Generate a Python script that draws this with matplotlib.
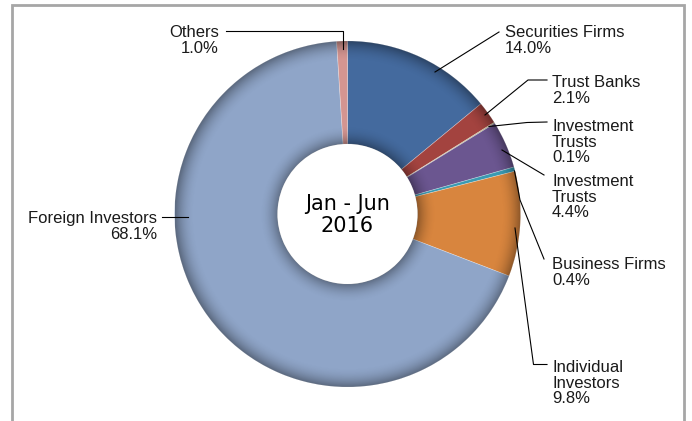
import matplotlib
matplotlib.use('Agg')
import matplotlib.pyplot as plt
import numpy as np
from matplotlib.patches import Wedge, Circle

W, H = 692, 421

# investor shares, clockwise from 12 o'clock
names = ['Securities Firms', 'Trust Banks', 'Investment\nTrusts', 'Investment\nTrusts',
         'Business Firms', 'Individual\nInvestors', 'Foreign Investors', 'Others']
shares = [14.0, 2.1, 0.1, 4.4, 0.4, 9.8, 68.1, 1.0]
colors = ['#446a9e', '#a3433f', '#b3ab72', '#6b5690', '#3a9ab2', '#d8853e', '#8fa5c8', '#d49591']
period = 'Jan - Jun\n2016'

# layout in pixel units (y measured from the top)
cx, cy = 347.5, 214
R, r_hole = 173, 70
label_pos = [(505, 37, 'left'), (552, 87, 'left'), (552, 131, 'left'), (552, 186, 'left'),
             (552, 269, 'left'), (552, 372, 'left'), (157, 223, 'right'), (219, 37, 'right')]
leaders = [
    [(499, 32), (435, 72)],
    [(547, 80), (528, 80), (485, 115)],
    [(547, 122), (527, 122.5), (489, 126.5)],
    [(544, 175), (502, 150)],
    [(544, 259), (520, 200), (514.5, 171)],
    [(547, 364.5), (533.5, 364.5), (515, 228)],
    [(162, 216.5), (188, 216.5)],
    [(226, 30.5), (343, 30.5), (343, 49)],
]
line_step = 15.7


def fy(y):
    return H - y


fig = plt.figure(figsize=(W / 100, H / 100), dpi=100)
ax = fig.add_axes([0, 0, 1, 1])
ax.set_xlim(0, W)
ax.set_ylim(0, H)
ax.axis('off')

wedges, _ = ax.pie(shares, colors=colors, startangle=90, counterclock=False,
                   center=(cx, fy(cy)), radius=R, normalize=True,
                   wedgeprops=dict(width=R - r_hole, edgecolor=(1, 1, 1, 0.35), linewidth=0.5))

# soft bevel darkening at the outer and inner edges of the ring
ext = [cx - R, cx + R, fy(cy) - R, fy(cy) + R]
n = 700
xs = np.linspace(ext[0], ext[1], n)
ys = np.linspace(ext[2], ext[3], n)
X, Y = np.meshgrid(xs, ys)
rr = np.hypot(X - cx, Y - fy(cy))
outer = np.clip((rr - (R - 20)) / 20, 0, 1) ** 2.0 * 0.36
inner = np.clip(((r_hole + 19) - rr) / 19, 0, 1) ** 2.0 * 0.34
shade = np.zeros((n, n, 4))
shade[..., 3] = np.maximum(outer, inner)
ring = Wedge((cx, fy(cy)), R, 0, 360, width=R - r_hole, transform=ax.transData,
             facecolor='none', edgecolor='none')
ax.add_patch(ring)
im = ax.imshow(shade, extent=ext, origin='lower', interpolation='bilinear', zorder=3)
im.set_clip_path(ring)
ax.set_xlim(0, W)
ax.set_ylim(0, H)
ax.set_aspect('auto')

ax.add_patch(Circle((cx, fy(cy)), r_hole, facecolor='white', edgecolor='none', zorder=2))

# labels with leader lines
for name, v, (lx, ly, ha), pts in zip(names, shares, label_pos, leaders):
    lines = name.split('\n') + [f'{v:.1f}%']
    for i, t in enumerate(lines):
        ax.text(lx, fy(ly + i * line_step), t, ha=ha, va='baseline', fontsize=12,
                family='Liberation Sans', color='#1a1a1a', zorder=5)
    px = [p[0] for p in pts]
    py = [fy(p[1]) for p in pts]
    ax.plot(px, py, color='black', lw=0.8, zorder=4)

for i, t in enumerate(period.split('\n')):
    ax.text(cx, fy(210 + i * 22), t, ha='center', va='baseline', fontsize=15,
            family='DejaVu Sans', color='black', zorder=5)

# frame around the chart area
ax.plot([11.5, 11.5, 684, 684], [0, fy(4.5), fy(4.5), 0], color='#a6a6a6', lw=2,
        solid_joinstyle='miter', zorder=6)

fig.savefig('out.png', dpi=100)
